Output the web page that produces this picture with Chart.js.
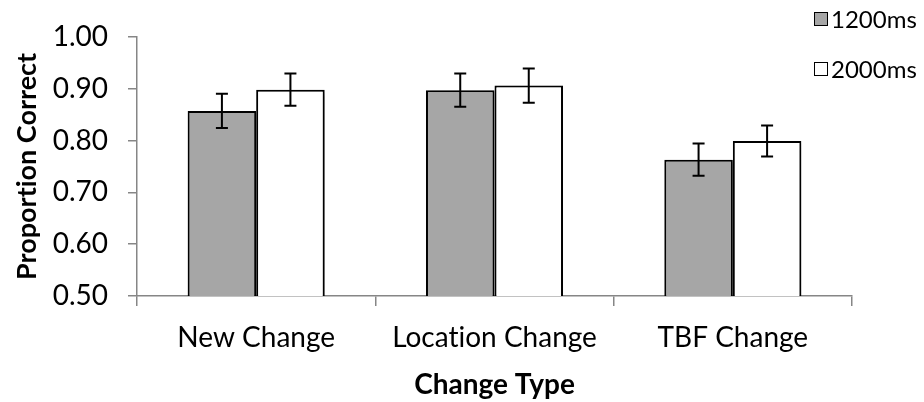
<!DOCTYPE html>
<html>
<head>
<meta charset="utf-8">
<script src="https://cdn.jsdelivr.net/npm/chart.js@4/dist/chart.umd.min.js"></script>
<style>
  html, body { margin: 0; padding: 0; background: #fff; }
  #wrap { width: 924px; height: 402px; }
</style>
</head>
<body>
<div id="wrap"><canvas id="c" width="924" height="402"></canvas></div>
<script>
// Categories and series
const categories = ['New Change', 'Location Change', 'TBF Change'];
const seriesNames = ['1200ms', '2000ms'];
const values1200 = [0.857, 0.897, 0.763];
const values2000 = [0.898, 0.906, 0.799];
const errors1200 = [0.033, 0.032, 0.031];
const errors2000 = [0.031, 0.033, 0.030];
const yTicks = [0.50, 0.60, 0.70, 0.80, 0.90, 1.00];

const FONT = 'Lato, "DejaVu Sans", sans-serif';
const AXIS_GREY = '#868686';
const errorsByDataset = [errors1200, errors2000];

// Plain glyphs, no ligatures
const plainText = {
  id: 'plainText',
  beforeDraw(chart) {
    chart.ctx.textRendering = 'optimizeSpeed';
  }
};

// Soft drop shadow under the bars
const barShadow = {
  id: 'barShadow',
  beforeDatasetDraw(chart) {
    const ctx = chart.ctx;
    ctx.save();
    ctx.shadowColor = 'rgba(0,0,0,0.35)';
    ctx.shadowBlur = 5;
    ctx.shadowOffsetX = 2;
    ctx.shadowOffsetY = 2;
  },
  afterDatasetDraw(chart) {
    chart.ctx.restore();
  }
};

// Error bars with caps, drawn from the error arrays through the y scale
const errorBars = {
  id: 'errorBars',
  afterDatasetsDraw(chart) {
    const ctx = chart.ctx;
    const y = chart.scales.y;
    ctx.save();
    ctx.strokeStyle = '#000';
    ctx.lineWidth = 2;
    chart.data.datasets.forEach((ds, di) => {
      const meta = chart.getDatasetMeta(di);
      meta.data.forEach((bar, i) => {
        const v = ds.data[i];
        const e = errorsByDataset[di][i];
        const yt = y.getPixelForValue(v + e);
        const yb = y.getPixelForValue(v - e);
        const cap = 6;
        ctx.beginPath();
        ctx.moveTo(bar.x, yt); ctx.lineTo(bar.x, yb);
        ctx.moveTo(bar.x - cap, yt); ctx.lineTo(bar.x + cap, yt);
        ctx.moveTo(bar.x - cap, yb); ctx.lineTo(bar.x + cap, yb);
        ctx.stroke();
      });
    });
    ctx.restore();
  }
};

// Legend in the top-right corner
const cornerLegend = {
  id: 'cornerLegend',
  afterDraw(chart) {
    const ctx = chart.ctx;
    ctx.save();
    ctx.textRendering = 'optimizeSpeed';
    const rows = [
      { label: seriesNames[0], fill: '#a6a6a6', y: 19 },
      { label: seriesNames[1], fill: '#ffffff', y: 69 }
    ];
    ctx.font = '24px ' + FONT;
    ctx.textBaseline = 'middle';
    rows.forEach(r => {
      ctx.fillStyle = r.fill;
      ctx.fillRect(814.5, r.y - 6.5, 13, 13);
      ctx.strokeStyle = '#000';
      ctx.lineWidth = 1;
      ctx.strokeRect(814.5, r.y - 6.5, 13, 13);
      ctx.fillStyle = '#000';
      ctx.fillText(r.label, 831, r.y + 1);
    });
    ctx.restore();
  }
};

new Chart(document.getElementById('c'), {
  type: 'bar',
  data: {
    labels: categories,
    datasets: [
      { label: seriesNames[0], data: values1200, backgroundColor: '#a6a6a6', borderColor: '#000', borderWidth: 2,
        barPercentage: 1.0, categoryPercentage: 0.575 },
      { label: seriesNames[1], data: values2000, backgroundColor: '#ffffff', borderColor: '#000', borderWidth: 2,
        barPercentage: 1.0, categoryPercentage: 0.575 }
    ]
  },
  options: {
    responsive: false,
    animation: false,
    devicePixelRatio: 1,
    layout: { padding: { top: 24, right: 72, left: 0, bottom: 0 } },
    plugins: { legend: { display: false }, tooltip: { enabled: false } },
    scales: {
      x: {
        offset: true,
        grid: { offset: true, drawOnChartArea: false, color: AXIS_GREY, lineWidth: 1.5, tickLength: 10 },
        border: { color: AXIS_GREY, width: 1.5 },
        ticks: { color: '#000', font: { family: FONT, size: 28 }, padding: 15 },
        title: { display: true, text: 'Change Type', color: '#000', font: { family: FONT, size: 28, weight: 'bold' }, padding: { top: 0, bottom: 0 } },
        afterFit(scale) { scale.height = 106; }
      },
      y: {
        min: 0.5, max: 1.0,
        afterBuildTicks(scale) { scale.ticks = yTicks.map(v => ({ value: v })); },
        grid: { drawOnChartArea: false, color: AXIS_GREY, lineWidth: 1.5, tickLength: 9 },
        border: { color: AXIS_GREY, width: 1.5 },
        ticks: { color: '#000', font: { family: FONT, size: 28 }, padding: 20, callback: v => Number(v).toFixed(2) },
        title: { display: true, text: 'Proportion Correct', color: '#000', font: { family: FONT, size: 27, weight: 'bold' }, padding: { top: 11, bottom: 0 } },
        afterFit(scale) { scale.width = 137; }
      }
    }
  },
  plugins: [plainText, barShadow, errorBars, cornerLegend]
});
</script>
</body>
</html>
